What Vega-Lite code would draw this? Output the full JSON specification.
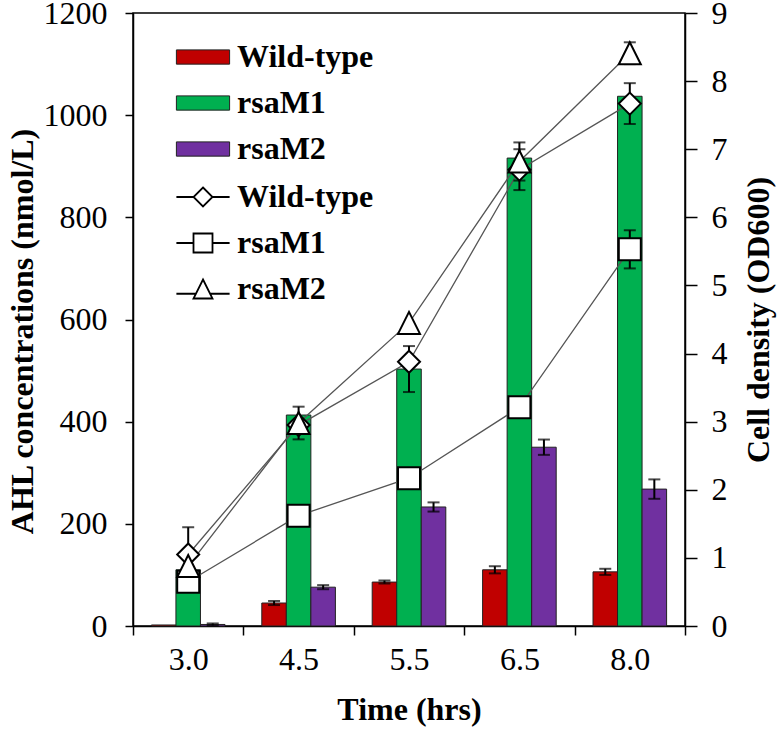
{
  "$schema": "https://vega.github.io/schema/vega-lite/v6.json",
  "width": 552,
  "height": 613,
  "autosize": "none",
  "padding": {"left": 133, "top": 13, "right": 93, "bottom": 103},
  "background": "white",
  "config": {
    "font": "Liberation Serif",
    "view": {"stroke": "#000", "strokeWidth": 1.5},
    "axis": {
      "grid": false,
      "domainColor": "#000",
      "domainWidth": 1.5,
      "tickColor": "#000",
      "tickWidth": 1.5,
      "labelFont": "Liberation Serif",
      "labelFontSize": 32,
      "labelColor": "#000",
      "titleFont": "Liberation Serif",
      "titleFontSize": 32,
      "titleFontWeight": "bold",
      "titleColor": "#000"
    }
  },
  "datasets": {
    "bars": [
      {"time": "3.0", "strain": "Wild-type", "ahl": 2},
      {"time": "3.0", "strain": "rsaM1", "ahl": 110},
      {"time": "3.0", "strain": "rsaM2", "ahl": 3},
      {"time": "4.5", "strain": "Wild-type", "ahl": 45},
      {"time": "4.5", "strain": "rsaM1", "ahl": 413},
      {"time": "4.5", "strain": "rsaM2", "ahl": 76},
      {"time": "5.5", "strain": "Wild-type", "ahl": 86},
      {"time": "5.5", "strain": "rsaM1", "ahl": 503},
      {"time": "5.5", "strain": "rsaM2", "ahl": 233},
      {"time": "6.5", "strain": "Wild-type", "ahl": 110},
      {"time": "6.5", "strain": "rsaM1", "ahl": 916},
      {"time": "6.5", "strain": "rsaM2", "ahl": 350},
      {"time": "8.0", "strain": "Wild-type", "ahl": 106},
      {"time": "8.0", "strain": "rsaM1", "ahl": 1037},
      {"time": "8.0", "strain": "rsaM2", "ahl": 268}
    ],
    "barerr": [
      {"time": "3.0", "strain": "rsaM2", "lo": 1, "hi": 5},
      {"time": "4.5", "strain": "Wild-type", "lo": 41, "hi": 49},
      {"time": "4.5", "strain": "rsaM2", "lo": 72, "hi": 80},
      {"time": "5.5", "strain": "Wild-type", "lo": 83, "hi": 89},
      {"time": "5.5", "strain": "rsaM1", "lo": 458, "hi": 548},
      {"time": "5.5", "strain": "rsaM2", "lo": 224, "hi": 242},
      {"time": "6.5", "strain": "Wild-type", "lo": 103, "hi": 117},
      {"time": "6.5", "strain": "rsaM2", "lo": 335, "hi": 365},
      {"time": "8.0", "strain": "Wild-type", "lo": 100, "hi": 112},
      {"time": "8.0", "strain": "rsaM2", "lo": 249, "hi": 287}
    ],
    "lines": [
      {"time": "3.0", "series": "Wild-type", "od": 1.05},
      {"time": "4.5", "series": "Wild-type", "od": 2.95},
      {"time": "5.5", "series": "Wild-type", "od": 3.88},
      {"time": "6.5", "series": "Wild-type", "od": 6.7},
      {"time": "8.0", "series": "Wild-type", "od": 7.67},
      {"time": "3.0", "series": "rsaM1", "od": 0.65},
      {"time": "4.5", "series": "rsaM1", "od": 1.62},
      {"time": "5.5", "series": "rsaM1", "od": 2.17},
      {"time": "6.5", "series": "rsaM1", "od": 3.21},
      {"time": "8.0", "series": "rsaM1", "od": 5.53},
      {"time": "3.0", "series": "rsaM2", "od": 0.88},
      {"time": "4.5", "series": "rsaM2", "od": 2.98},
      {"time": "5.5", "series": "rsaM2", "od": 4.45},
      {"time": "6.5", "series": "rsaM2", "od": 6.82},
      {"time": "8.0", "series": "rsaM2", "od": 8.41}
    ],
    "lineerr": [
      {"time": "3.0", "series": "Wild-type", "lo": 0.65, "hi": 1.45},
      {"time": "6.5", "series": "Wild-type", "lo": 6.4, "hi": 7.0},
      {"time": "8.0", "series": "Wild-type", "lo": 7.37, "hi": 7.97},
      {"time": "8.0", "series": "rsaM1", "lo": 5.25, "hi": 5.81},
      {"time": "4.5", "series": "rsaM2", "lo": 2.74, "hi": 3.22},
      {"time": "6.5", "series": "rsaM2", "lo": 6.54, "hi": 7.1},
      {"time": "8.0", "series": "rsaM2", "lo": 8.25, "hi": 8.57}
    ]
  },
  "layer": [
    {
      "encoding": {
        "x": {
          "field": "time",
          "type": "ordinal",
          "scale": {"domain": ["3.0", "4.5", "5.5", "6.5", "8.0"], "paddingInner": 0, "paddingOuter": 0},
          "axis": {"title": "Time (hrs)", "labelAngle": 0, "tickBand": "extent", "tickSize": 9, "labelPadding": 9, "titlePadding": 19}
        },
        "xOffset": {
          "field": "strain",
          "type": "nominal",
          "scale": {"domain": ["Wild-type", "rsaM1", "rsaM2"], "paddingInner": 0, "paddingOuter": 0.75}
        }
      },
      "layer": [
        {
          "data": {"name": "bars"},
          "mark": {"type": "bar", "stroke": "#222", "strokeWidth": 1},
          "encoding": {
            "y": {
              "field": "ahl",
              "type": "quantitative",
              "scale": {"domain": [0, 1200], "nice": false},
              "axis": {"title": "AHL concentrations (nmol/L)", "orient": "left", "format": "d", "values": [0, 200, 400, 600, 800, 1000, 1200], "tickSize": 8, "labelPadding": 18, "titlePadding": 4, "titleY": 318}
            },
            "fill": {
              "field": "strain",
              "type": "nominal",
              "scale": {"domain": ["Wild-type", "rsaM1", "rsaM2"], "range": ["#C00000", "#00B050", "#7030A0"]},
              "legend": {
                "orient": "none",
                "legendX": 54,
                "legendY": 28,
                "title": null,
                "symbolType": "M-2.8,-0.75H2.8V0.75H-2.8Z",
                "symbolSize": 361,
                "symbolStrokeColor": "#222",
                "symbolStrokeWidth": 1,
                "labelFont": "Liberation Serif",
                "labelFontSize": 32,
                "labelFontWeight": "bold",
                "labelColor": "#000",
                "labelOffset": 18,
                "rowPadding": 14
              }
            }
          }
        },
        {
          "data": {"name": "barerr"},
          "mark": {"type": "rule", "color": "#000", "strokeWidth": 2},
          "encoding": {
            "y": {"field": "lo", "type": "quantitative"},
            "y2": {"field": "hi"}
          }
        },
        {
          "data": {"name": "barerr"},
          "mark": {"type": "tick", "color": "#000", "thickness": 2, "size": 12},
          "encoding": {"y": {"field": "lo", "type": "quantitative"}}
        },
        {
          "data": {"name": "barerr"},
          "mark": {"type": "tick", "color": "#000", "thickness": 2, "size": 12},
          "encoding": {"y": {"field": "hi", "type": "quantitative"}}
        }
      ]
    },
    {
      "encoding": {
        "x": {
          "field": "time",
          "type": "ordinal",
          "scale": {"domain": ["3.0", "4.5", "5.5", "6.5", "8.0"], "paddingInner": 0, "paddingOuter": 0},
          "axis": {"title": "Time (hrs)", "labelAngle": 0, "tickBand": "extent", "tickSize": 9, "labelPadding": 9, "titlePadding": 19}
        }
      },
      "layer": [
        {
          "data": {"name": "lines"},
          "mark": {"type": "line", "color": "#555", "strokeWidth": 1.3},
          "encoding": {
            "y": {
              "field": "od",
              "type": "quantitative",
              "scale": {"domain": [0, 9], "nice": false},
              "axis": {"title": "Cell density (OD600)", "orient": "right", "format": "d", "values": [0, 1, 2, 3, 4, 5, 6, 7, 8, 9], "tickSize": 12, "labelPadding": 14, "titlePadding": 16, "titleAngle": 270, "titleBaseline": "top"}
            },
            "detail": {"field": "series", "type": "nominal"}
          }
        },
        {
          "data": {"name": "lineerr"},
          "mark": {"type": "rule", "color": "#000", "strokeWidth": 2},
          "encoding": {
            "y": {"field": "lo", "type": "quantitative"},
            "y2": {"field": "hi"}
          }
        },
        {
          "data": {"name": "lineerr"},
          "mark": {"type": "tick", "color": "#000", "thickness": 2, "size": 12},
          "encoding": {"y": {"field": "lo", "type": "quantitative"}}
        },
        {
          "data": {"name": "lineerr"},
          "mark": {"type": "tick", "color": "#000", "thickness": 2, "size": 12},
          "encoding": {"y": {"field": "hi", "type": "quantitative"}}
        },
        {
          "data": {"name": "lines"},
          "mark": {"type": "point", "filled": false, "color": "#000", "fill": "white", "fillOpacity": 1, "strokeWidth": 1.8, "size": 361, "opacity": 0},
          "encoding": {
            "y": {"field": "od", "type": "quantitative"},
            "shape": {
              "field": "series",
              "type": "nominal",
              "scale": {"range": ["M-2.8,0H-1M1,0H2.8M0,-1L1,0L0,1L-1,0Z", "M-2.8,0H-1M1,0H2.8M-1,-1H1V1H-1Z", "M-2.8,0.5H-0.75M0.75,0.5H2.8M0,-1L1,1H-1Z"]},
              "legend": {
                "orient": "none",
                "legendX": 54,
                "legendY": 168,
                "title": null,
                "symbolSize": 361,
                "symbolStrokeWidth": 1.8,
                "symbolOpacity": 1,
                "labelFont": "Liberation Serif",
                "labelFontSize": 32,
                "labelFontWeight": "bold",
                "labelColor": "#000",
                "labelOffset": 18,
                "rowPadding": 14
              }
            }
          }
        },
        {
          "data": {"name": "lines"},
          "transform": [{"filter": "datum.series === 'Wild-type'"}],
          "mark": {"type": "point", "filled": false, "color": "#000", "fill": "white", "fillOpacity": 1, "strokeWidth": 2, "size": 484, "opacity": 1, "shape": "M0,-1L1,0L0,1L-1,0Z"},
          "encoding": {"y": {"field": "od", "type": "quantitative"}}
        },
        {
          "data": {"name": "lines"},
          "transform": [{"filter": "datum.series === 'rsaM1'"}],
          "mark": {"type": "point", "filled": false, "color": "#000", "fill": "white", "fillOpacity": 1, "strokeWidth": 2, "size": 484, "opacity": 1, "shape": "M-1,-1H1V1H-1Z"},
          "encoding": {"y": {"field": "od", "type": "quantitative"}}
        },
        {
          "data": {"name": "lines"},
          "transform": [{"filter": "datum.series === 'rsaM2'"}],
          "mark": {"type": "point", "filled": false, "color": "#000", "fill": "white", "fillOpacity": 1, "strokeWidth": 2, "size": 484, "opacity": 1, "shape": "M0,-1L1,1H-1Z"},
          "encoding": {"y": {"field": "od", "type": "quantitative"}}
        }
      ]
    }
  ],
  "resolve": {"scale": {"y": "independent"}}
}
